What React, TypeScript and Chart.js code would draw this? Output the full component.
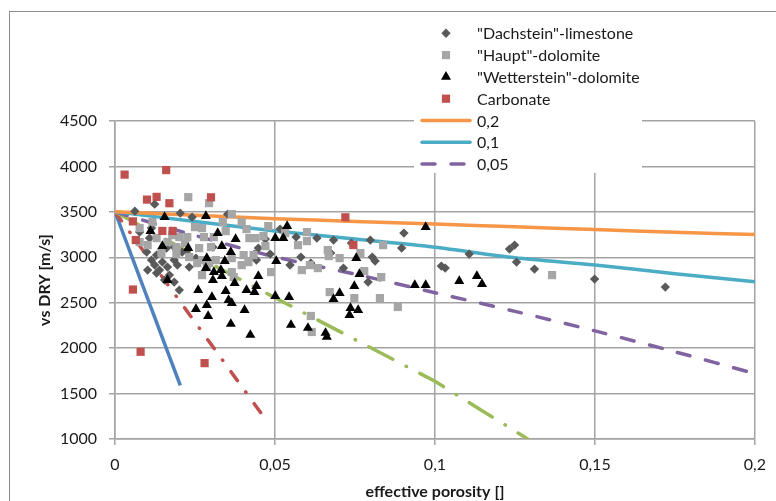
import React, { useEffect, useRef } from 'react';
import { Chart, registerables } from 'chart.js';

Chart.register(...registerables);

// ---------- data ----------
const dachsteinX = [0.0062,0.0124,0.0204,0.0241,0.0352,0.0516,0.0566,0.0448,0.0485,0.0547,0.0581,0.0631,0.0683,0.0674,0.0714,0.0739,0.0798,0.0804,0.0813,0.0791,0.0903,0.0896,0.0612,0.0306,0.0442,0.0077,0.0114,0.0099,0.0114,0.013,0.0124,0.0148,0.0139,0.0164,0.013,0.0185,0.0195,0.017,0.0185,0.0201,0.0102,0.0155,0.0232,0.021,0.0185,0.0161,0.0108,0.0226,0.0253,0.1107,0.1233,0.1249,0.1255,0.1311,0.102,0.1032,0.1499,0.172,0.047];
const dachsteinY = [3508,3585,3486,3442,3475,3310,3222,3101,3035,2914,3002,3211,3189,3046,2881,3156,3189,3002,2958,2727,3266,3101,2936,3112,2969,3277,3321,3057,2969,3024,2914,2947,2859,2892,2826,2969,2914,2804,2727,2639,2859,2749,2892,3057,3112,3101,3211,3079,2991,3035,3090,3134,2947,2870,2903,2881,2760,2672,3200];

const hauptX = [0.0229,0.0294,0.0365,0.0337,0.0396,0.025,0.0272,0.0077,0.0117,0.0346,0.0411,0.0464,0.013,0.0179,0.0226,0.0278,0.0309,0.0219,0.0192,0.0263,0.03,0.0145,0.0192,0.0232,0.0272,0.0315,0.0365,0.0402,0.0433,0.0257,0.0294,0.0365,0.0396,0.0488,0.047,0.0439,0.0532,0.0479,0.0572,0.0417,0.0584,0.0272,0.0371,0.06,0.06,0.0665,0.0668,0.0702,0.0767,0.0779,0.0838,0.0832,0.0609,0.0634,0.0671,0.0748,0.0828,0.0884,0.0612,0.0615,0.1366,0.0077,0.0102,0.0164,0.0201,0.0287,0.042];
const hauptY = [3662,3596,3475,3387,3387,3332,3321,3321,3387,3288,3310,3233,3211,3244,3222,3222,3222,3156,3112,3101,3112,3046,3035,3002,2969,2969,2991,3024,3024,2936,2936,2837,2914,2837,3123,3211,3266,3343,3134,2947,2859,2804,2782,3277,3178,3079,3013,2991,3046,2848,3134,2782,2914,2881,2617,2551,2551,2453,2354,2178,2804,3167,3134,3167,3222,2892,3211];

const wettersteinX = [0.0155,0.0284,0.0111,0.0148,0.0229,0.0321,0.0334,0.0377,0.0362,0.0287,0.0343,0.0284,0.0309,0.0331,0.0334,0.0448,0.0504,0.0501,0.0526,0.0538,0.0306,0.026,0.0346,0.0374,0.0411,0.0442,0.0436,0.0303,0.0355,0.0365,0.0253,0.0287,0.0291,0.0405,0.0362,0.0423,0.0501,0.0544,0.055,0.0603,0.0754,0.0764,0.0748,0.0702,0.0683,0.0736,0.076,0.0733,0.0658,0.0662,0.0937,0.0971,0.0971,0.1076,0.1131,0.1147,0.0164];
const wettersteinY = [3442,3453,3288,3123,3101,3266,3123,3200,3057,2991,2958,2881,2837,2859,2793,2793,2958,3211,3211,3343,2749,2639,2628,2716,2639,2683,2617,2562,2529,2497,2431,2475,2354,2420,2266,2145,2573,2562,2255,2222,2991,2815,2683,2606,2540,2442,2420,2365,2167,2123,2694,2694,3332,2738,2793,2705,2749];

const carbonateX = [0.003,0.016,0.010,0.013,0.017,0.030,0.0056,0.0148,0.018,0.0065,0.0056,0.008,0.028,0.072,0.0745];
const carbonateY = [3910,3960,3635,3665,3595,3660,3395,3290,3290,3190,2645,1960,1835,3440,3135];

const curveX = [0, 0.025, 0.05, 0.075, 0.1, 0.125, 0.15, 0.175, 0.2];
const curve02Y = [3500, 3462, 3425, 3395, 3365, 3335, 3305, 3275, 3250];
const curve01Y = [3500, 3395, 3290, 3200, 3110, 2995, 2915, 2820, 2730];
const curve005Y = [3500, 3240, 3005, 2815, 2610, 2405, 2190, 1960, 1720];

const greenX = [0, 0.025, 0.05, 0.075, 0.1, 0.129];
const greenY = [3500, 3020, 2555, 2095, 1635, 1000];
const redLineX = [0, 0.048];
const redLineY = [3500, 1170];
const blueLineX = [0, 0.0204];
const blueLineY = [3500, 1590];

const xTickLabels = ['0', '0,05', '0,1', '0,15', '0,2'];
const yTickLabels = ['1000', '1500', '2000', '2500', '3000', '3500', '4000', '4500'];

const FONT = 'Lato, "Open Sans", "DejaVu Sans", sans-serif';
const TEXT = '#1a1a1a';
const GRID = '#a3a3a3';

const pts = (xs: number[], ys: number[]) => xs.map((x, i) => ({ x, y: ys[i] }));

const framePlugin = {
  id: 'frame',
  beforeDraw(chart: any) {
    const ctx = chart.ctx;
    ctx.save();
    ctx.fillStyle = '#ffffff';
    ctx.fillRect(0, 0, chart.width, chart.height);
    ctx.strokeStyle = '#8c8c8c';
    ctx.lineWidth = 1;
    ctx.strokeRect(9.5, 11.5, 1000, 1000);
    ctx.restore();
  },
};

function drawMarker(ctx: CanvasRenderingContext2D, style: string, x: number, y: number, r: number, color: string) {
  ctx.fillStyle = color;
  ctx.beginPath();
  if (style === 'rectRot') {
    ctx.moveTo(x - r, y);
    ctx.lineTo(x, y - r);
    ctx.lineTo(x + r, y);
    ctx.lineTo(x, y + r);
  } else if (style === 'triangle') {
    ctx.moveTo(x, y - r);
    ctx.lineTo(x + r * 0.866, y + r * 0.5);
    ctx.lineTo(x - r * 0.866, y + r * 0.5);
  } else {
    const s = r * Math.SQRT1_2;
    ctx.rect(x - s, y - s, 2 * s, 2 * s);
  }
  ctx.closePath();
  ctx.fill();
}

const legendPlugin = {
  id: 'sideLegend',
  afterDraw(chart: any) {
    const ctx: CanvasRenderingContext2D = chart.ctx;
    const ds = chart.data.datasets;
    ctx.save();
    ctx.fillStyle = '#ffffff';
    ctx.fillRect(414, 14, 228, 159);
    const markX = 446;
    const lineX0 = 422;
    const lineX1 = 470;
    const textX = 477;
    const y0 = 33.3;
    const step = 21.8;
    ctx.font = `16px ${FONT}`;
    ctx.textBaseline = 'middle';
    ctx.textAlign = 'left';
    for (let i = 0; i < 7; i++) {
      const d = ds[i];
      const y = y0 + i * step;
      if (d.showLine) {
        ctx.save();
        ctx.strokeStyle = d.borderColor;
        ctx.lineWidth = d.borderWidth;
        ctx.lineCap = 'round';
        ctx.setLineDash(d.borderDash || []);
        ctx.beginPath();
        ctx.moveTo(lineX0, y);
        ctx.lineTo(lineX1, y);
        ctx.stroke();
        ctx.restore();
      } else {
        drawMarker(ctx, d.pointStyle, markX, y, d.pointRadius, d.backgroundColor);
      }
      ctx.fillStyle = TEXT;
      ctx.fillText(d.label, textX, y + 1);
    }
    ctx.restore();
  },
};

export default function App() {
  const ref = useRef<HTMLCanvasElement>(null);

  useEffect(() => {
    const canvas = ref.current;
    if (!canvas) return;
    const chart = new Chart(canvas, {
      type: 'scatter',
      data: {
        datasets: [
          {
            label: '"Dachstein"-limestone',
            data: pts(dachsteinX, dachsteinY),
            pointStyle: 'rectRot',
            pointRadius: 4.7,
            backgroundColor: '#595959',
            borderColor: '#595959',
            borderWidth: 0,
            showLine: false,
            order: 4,
          },
          {
            label: '"Haupt"-dolomite',
            data: pts(hauptX, hauptY),
            pointStyle: 'rect',
            pointRadius: 5.8,
            backgroundColor: '#a6a6a6',
            borderColor: '#a6a6a6',
            borderWidth: 0,
            showLine: false,
            order: 3,
          },
          {
            label: '"Wetterstein"-dolomite',
            data: pts(wettersteinX, wettersteinY),
            pointStyle: 'triangle',
            pointRadius: 5.8,
            backgroundColor: '#000000',
            borderColor: '#000000',
            borderWidth: 0,
            showLine: false,
            order: 2,
          },
          {
            label: 'Carbonate',
            data: pts(carbonateX, carbonateY),
            pointStyle: 'rect',
            pointRadius: 5.8,
            backgroundColor: '#c0504d',
            borderColor: '#c0504d',
            borderWidth: 0,
            showLine: false,
            order: 1,
          },
          {
            label: '0,2',
            data: pts(curveX, curve02Y),
            showLine: true,
            pointRadius: 0,
            borderColor: '#f79646',
            backgroundColor: '#f79646',
            borderWidth: 3.5,
            tension: 0.3,
            borderCapStyle: 'round',
            order: 5,
          },
          {
            label: '0,1',
            data: pts(curveX, curve01Y),
            showLine: true,
            pointRadius: 0,
            borderColor: '#4bacc6',
            backgroundColor: '#4bacc6',
            borderWidth: 3.5,
            tension: 0.3,
            borderCapStyle: 'round',
            order: 5,
          },
          {
            label: '0,05',
            data: pts(curveX, curve005Y),
            showLine: true,
            pointRadius: 0,
            borderColor: '#8064a2',
            backgroundColor: '#8064a2',
            borderWidth: 3.5,
            borderDash: [13, 16],
            tension: 0.3,
            borderCapStyle: 'round',
            order: 5,
          },
          {
            label: 'green',
            data: pts(greenX, greenY),
            showLine: true,
            pointRadius: 0,
            borderColor: '#9bbb59',
            backgroundColor: '#9bbb59',
            borderWidth: 3.5,
            borderDash: [27, 15, 0.5, 15],
            borderCapStyle: 'round',
            tension: 0,
            order: 6,
          },
          {
            label: 'red',
            data: pts(redLineX, redLineY),
            showLine: true,
            pointRadius: 0,
            borderColor: '#c0504d',
            backgroundColor: '#c0504d',
            borderWidth: 3.5,
            borderDash: [11, 14, 0.5, 14],
            borderCapStyle: 'round',
            tension: 0,
            order: 6,
          },
          {
            label: 'blue',
            data: pts(blueLineX, blueLineY),
            showLine: true,
            pointRadius: 0,
            borderColor: '#4f81bd',
            backgroundColor: '#4f81bd',
            borderWidth: 3.5,
            tension: 0,
            order: 6,
          },
        ] as any,
      },
      options: {
        responsive: false,
        animation: false,
        events: [],
        devicePixelRatio: 1,
        layout: { padding: { left: 0, right: 14, top: 121, bottom: 0 } },
        plugins: {
          legend: { display: false },
          tooltip: { enabled: false },
        },
        scales: {
          x: {
            type: 'linear',
            min: 0,
            max: 0.2,
            ticks: {
              stepSize: 0.05,
              autoSkip: false,
              maxRotation: 0,
              padding: 10,
              color: TEXT,
              font: { family: FONT, size: 16 },
              callback: (_v: any, i: number) => xTickLabels[i],
            },
            grid: { color: GRID, lineWidth: 1.5, tickLength: 6, drawTicks: true },
            border: { color: GRID, width: 1.5 },
            title: {
              display: true,
              text: 'effective porosity []',
              color: TEXT,
              font: { family: FONT, size: 16, weight: 'bold' },
              padding: { top: 0, bottom: 0 },
            },
            afterFit: (s: any) => { s.height = 62; },
          },
          y: {
            type: 'linear',
            min: 1000,
            max: 4500,
            ticks: {
              stepSize: 500,
              padding: 12,
              color: TEXT,
              font: { family: FONT, size: 16 },
              callback: (_v: any, i: number) => yTickLabels[i],
            },
            grid: { color: GRID, lineWidth: 1.5, tickLength: 6, drawTicks: true },
            border: { color: GRID, width: 1.5 },
            title: {
              display: true,
              text: 'vs DRY [m/s]',
              color: TEXT,
              font: { family: FONT, size: 16, weight: 'bold' },
              padding: { top: 35, bottom: 0 },
            },
            afterFit: (s: any) => { s.width = 115; },
          },
        },
      } as any,
      plugins: [framePlugin, legendPlugin],
    });
    return () => chart.destroy();
  }, []);

  return (
    <div style={{ position: 'absolute', left: 0, top: 0, width: 776, height: 501 }}>
      <canvas ref={ref} width={776} height={501} style={{ display: 'block', width: 776, height: 501 }} />
    </div>
  );
}
